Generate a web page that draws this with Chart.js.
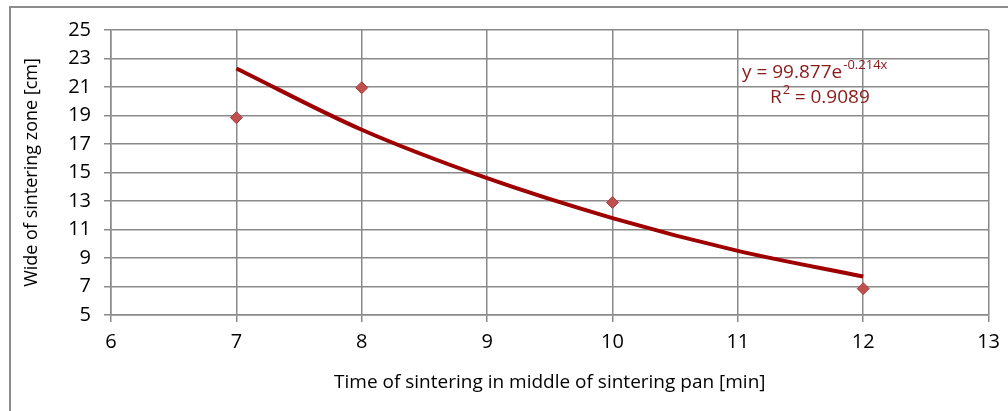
<!DOCTYPE html>
<html lang="en">
<head>
    <meta charset="UTF-8">
    <title>Wide of sintering zone</title>
    <script src="https://cdn.jsdelivr.net/npm/chart.js"></script>
    <style>
        body { margin: 0; background: #fff; }
        #wrap { width: 1008px; height: 411px; }
    </style>
</head>
<body>
    <div id="wrap"><canvas id="sinterChart" width="1008" height="411"></canvas></div>

    <script>
        // measured points
        const timeMin = [7, 8, 10, 12];
        const wideCm = [18.85, 20.95, 12.9, 6.85];

        // exponential trendline at each whole minute
        const trendX = [7, 8, 9, 10, 11, 12];
        const trendY = [22.3, 18.0, 14.6, 11.8, 9.5, 7.7];

        const eqText = 'y = 99.877e';
        const eqExp = '-0.214x';
        const r2Value = '0.9089';

        const gridColor = '#8a8a8a';
        const tickFont = { family: 'Open Sans', size: 20 };

        // frame round the chart + trendline equation
        const extras = {
            id: 'extras',
            beforeDraw(chart) {
                const ctx = chart.ctx;
                ctx.save();
                ctx.strokeStyle = '#8c8c8c';
                ctx.lineWidth = 2;
                ctx.strokeRect(10, 7, 1100, 500);
                ctx.restore();
            },
            afterDraw(chart) {
                const ctx = chart.ctx;
                const area = chart.chartArea;
                ctx.save();
                ctx.fillStyle = '#8b1a1a';
                ctx.textBaseline = 'alphabetic';
                ctx.font = '19px "Open Sans"';
                let x0 = area.left + 631;
                let y0 = area.top + 48;
                ctx.fillText(eqText, x0, y0);
                let w = ctx.measureText(eqText).width;
                ctx.font = '13px "Open Sans"';
                ctx.fillText(eqExp, x0 + w + 1, y0 - 9);

                ctx.font = '19px "Open Sans"';
                let x1 = x0 + 28, y1 = y0 + 25;
                ctx.fillText('R', x1, y1);
                let wr = ctx.measureText('R').width;
                ctx.font = '13px "Open Sans"';
                ctx.fillText('2', x1 + wr + 1, y1 - 9);
                ctx.font = '19px "Open Sans"';
                ctx.fillText(' = ' + r2Value, x1 + wr + 8, y1);
                ctx.restore();
            }
        };

        const ctx = document.getElementById('sinterChart').getContext('2d');
        new Chart(ctx, {
            type: 'scatter',
            data: {
                datasets: [
                    {
                        label: 'Wide of sintering zone',
                        data: timeMin.map((t, i) => ({ x: t, y: wideCm[i] })),
                        pointStyle: 'rectRot',
                        pointRadius: 6,
                        backgroundColor: '#c0504d',
                        borderColor: '#a8403d',
                        borderWidth: 1,
                        order: 1
                    },
                    {
                        label: 'Expon.',
                        type: 'line',
                        data: trendX.map((t, i) => ({ x: t, y: trendY[i] })),
                        borderColor: '#9e0000',
                        borderWidth: 4,
                        pointRadius: 0,
                        fill: false,
                        cubicInterpolationMode: 'monotone',
                        order: 2
                    }
                ]
            },
            options: {
                responsive: false,
                animation: false,
                layout: { padding: { top: 30, right: 16, left: 0, bottom: 0 } },
                plugins: {
                    legend: { display: false },
                    tooltip: { enabled: false }
                },
                scales: {
                    x: {
                        type: 'linear',
                        min: 6, max: 13,
                        afterFit(scale) { scale.height = 96; },
                        ticks: { stepSize: 1, color: '#000', font: tickFont, padding: 8, maxRotation: 0 },
                        grid: { color: gridColor, lineWidth: 1.5, tickLength: 7 },
                        border: { color: gridColor, width: 1.5 },
                        title: {
                            display: true,
                            text: 'Time of sintering in middle of sintering pan [min]',
                            color: '#000',
                            font: { family: 'Open Sans', size: 19 },
                            padding: { top: 0, bottom: 17 }
                        }
                    },
                    y: {
                        min: 5, max: 25,
                        afterFit(scale) { scale.width = 111; },
                        ticks: { stepSize: 2, color: '#000', font: tickFont, padding: 13 },
                        grid: { color: gridColor, lineWidth: 1.5, tickLength: 7 },
                        border: { color: gridColor, width: 1.5 },
                        title: {
                            display: true,
                            text: 'Wide of sintering zone [cm]',
                            color: '#000',
                            font: { family: 'Open Sans', size: 18 },
                            padding: { top: 21, bottom: 0 }
                        }
                    }
                }
            },
            plugins: [extras]
        });
    </script>
</body>
</html>
